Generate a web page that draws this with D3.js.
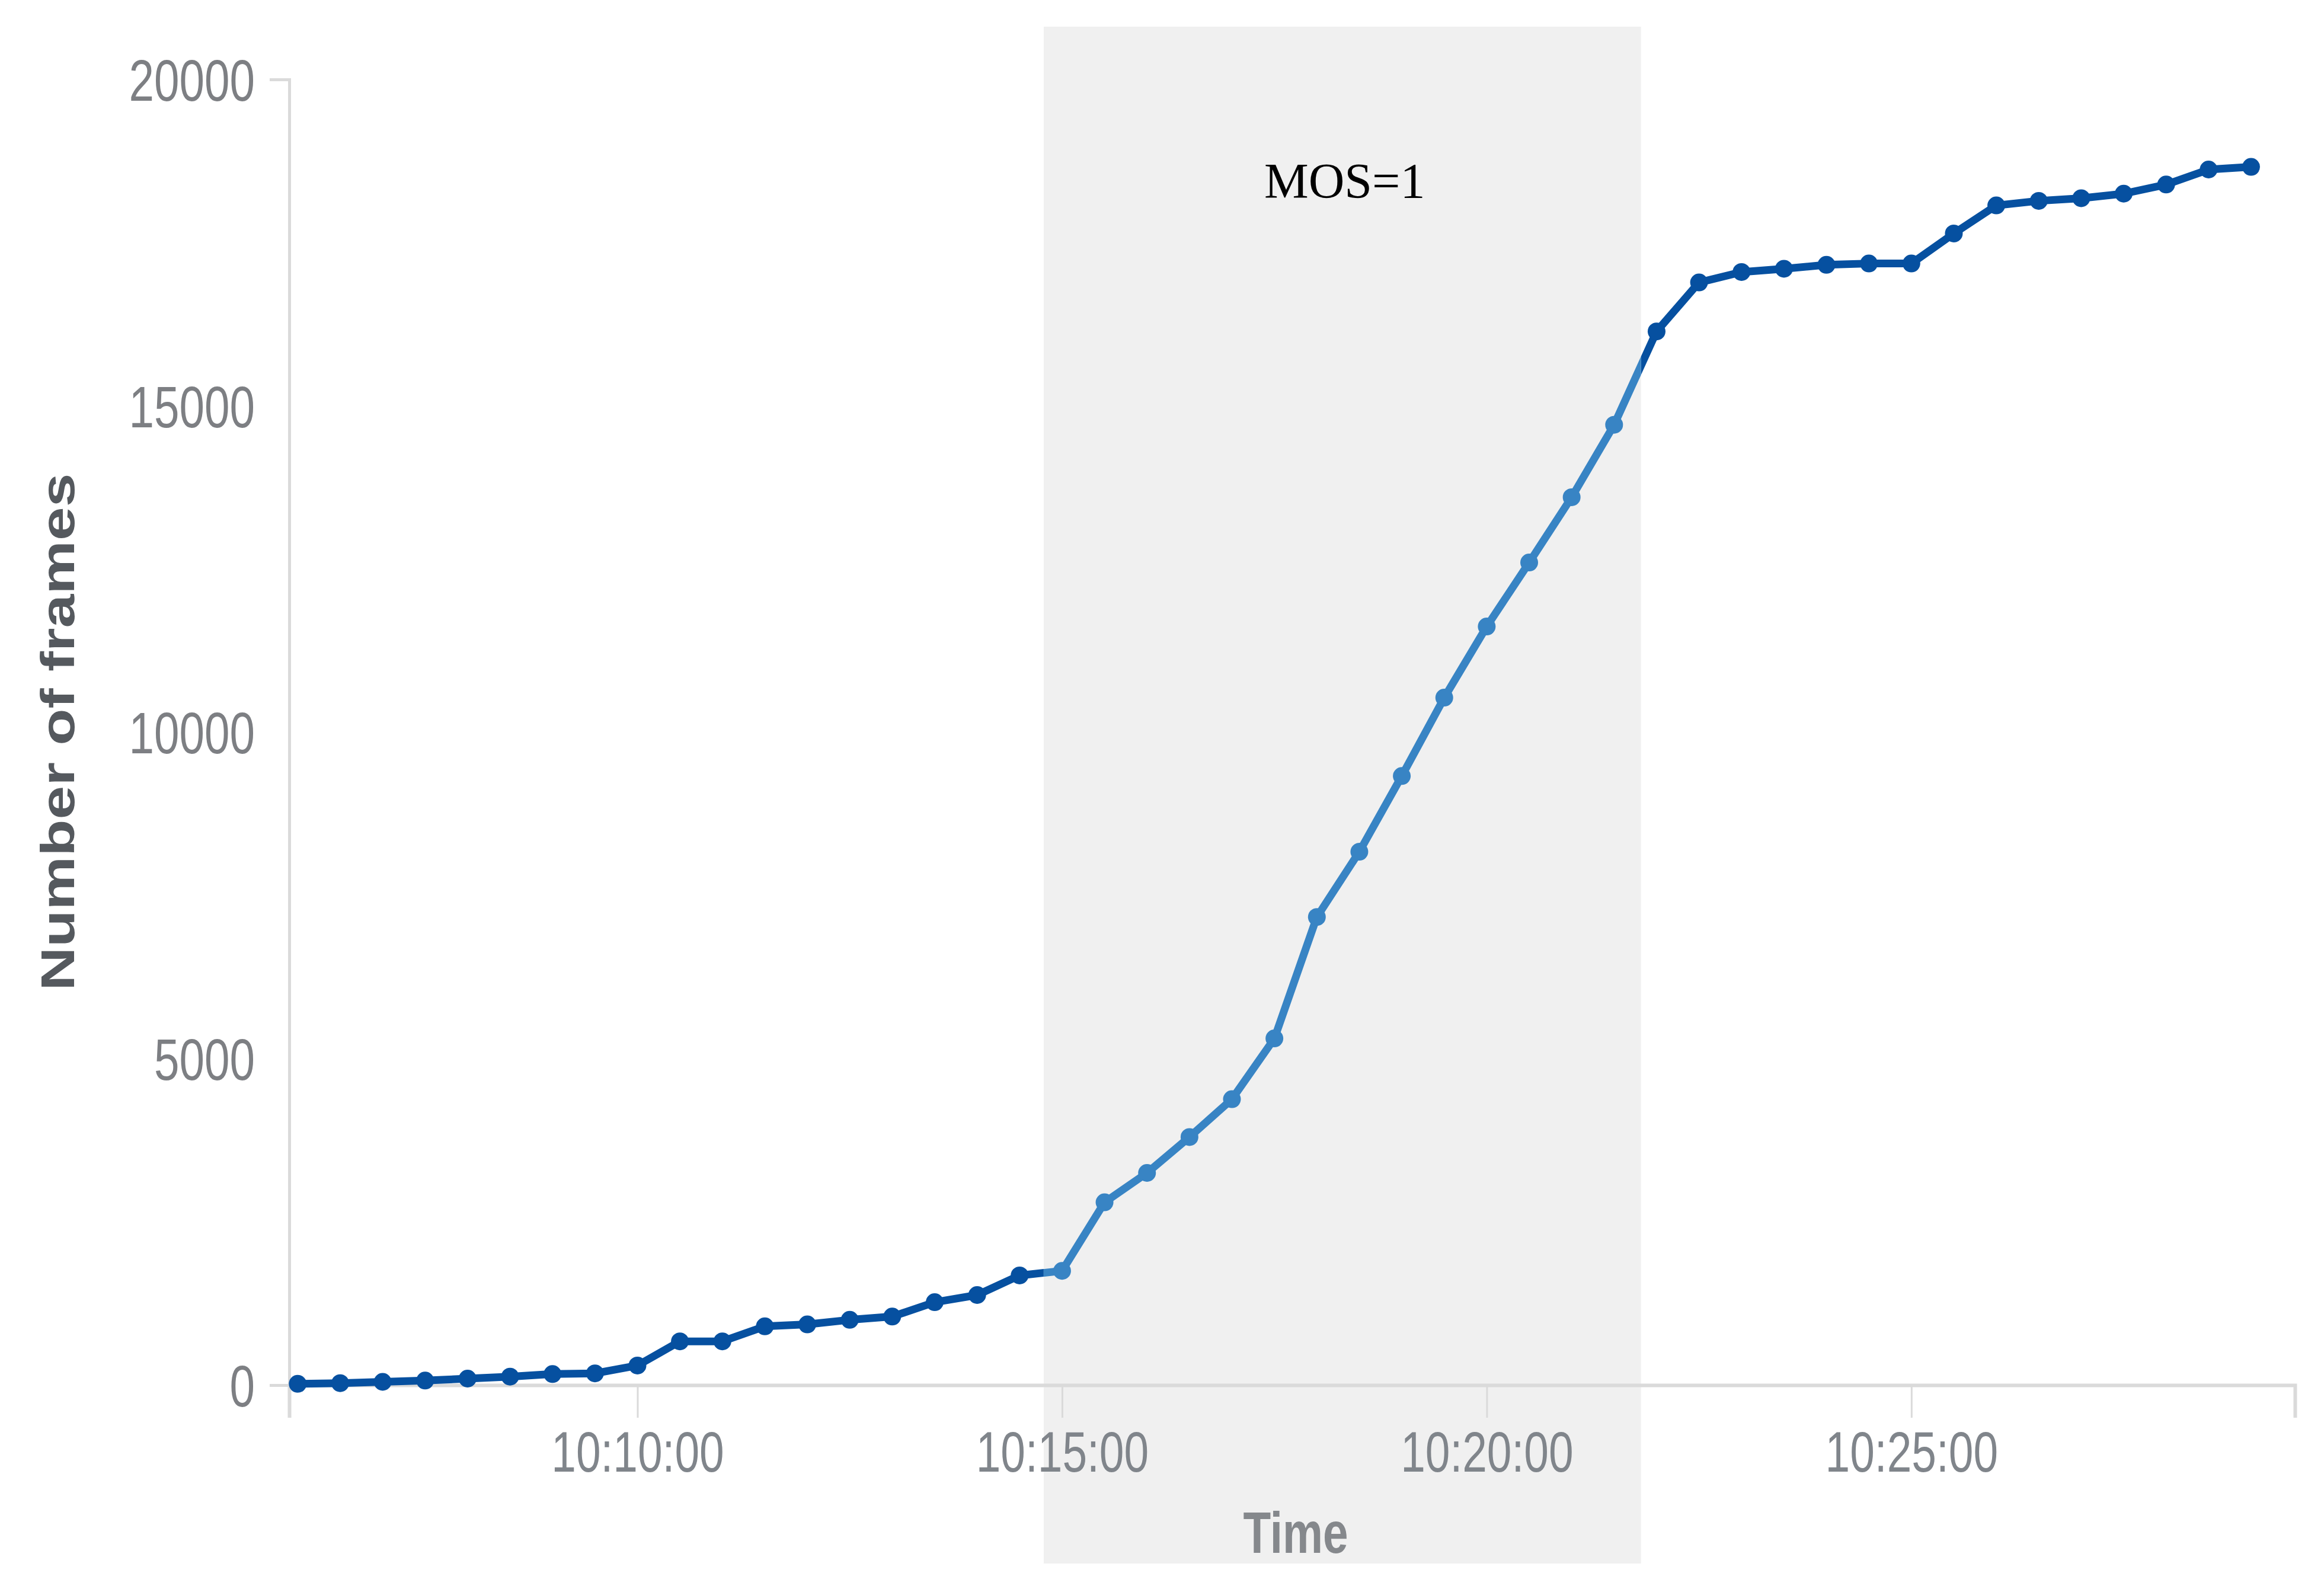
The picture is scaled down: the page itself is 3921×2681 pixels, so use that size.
<!DOCTYPE html>
<html>
<head>
<meta charset="utf-8">
<script src="https://cdn.jsdelivr.net/npm/d3@7"></script>
<style>
  html, body { margin: 0; padding: 0; background: #ffffff; }
  svg { display: block; }
</style>
</head>
<body>
<svg id="chart" width="3921" height="2681"></svg>
<script>
// ---------------- DATA ----------------
const times = [
  "10:06:00","10:06:30","10:07:00","10:07:30","10:08:00","10:08:30","10:09:00","10:09:30",
  "10:10:00","10:10:30","10:11:00","10:11:30","10:12:00","10:12:30","10:13:00","10:13:30",
  "10:14:00","10:14:30","10:15:00","10:15:30","10:16:00","10:16:30","10:17:00","10:17:30",
  "10:18:00","10:18:30","10:19:00","10:19:30","10:20:00","10:20:30","10:21:00","10:21:30",
  "10:22:00","10:22:30","10:23:00","10:23:30","10:24:00","10:24:30","10:25:00","10:25:30",
  "10:26:00","10:26:30","10:27:00","10:27:30","10:28:00","10:28:30","10:29:00"
];
const frames = [
  20, 30, 50, 70, 100, 130, 170, 180,
  300, 670, 670, 900, 930, 1000, 1050, 1270,
  1380, 1680, 1750, 2800, 3250, 3800, 4380, 5310,
  7170, 8170, 9330, 10530, 11620, 12600, 13600, 14710,
  16140, 16890, 17050, 17100, 17160, 17180, 17180, 17640,
  18070, 18140, 18180, 18250, 18390, 18620, 18660
];
const yTicks = [0, 5000, 10000, 15000, 20000];
const xTickLabels = ["10:10:00", "10:15:00", "10:20:00", "10:25:00"];
const xDomain = ["10:05:54", "10:29:31"];
const band = ["10:14:47", "10:21:49"];
const bandLabel = "MOS=1";
const xTitle = "Time";
const yTitle = "Number of frames";

// ---------------- LAYOUT ----------------
const parse = d3.timeParse("%H:%M:%S");
const fmt = d3.timeFormat("%H:%M:%S");
const svg = d3.select("#chart");
const X0 = 488, X1 = 3872, Y0 = 2337, Y1 = 134;
const SQ = 0.78; // horizontal squeeze of chart text

const x = d3.scaleTime().domain(xDomain.map(parse)).range([X0, X1]);
const y = d3.scaleLinear().domain([0, 20000]).range([Y0, Y1]);

const data = times.map((t, i) => ({ t: parse(t), v: frames[i] }));

// shaded band
svg.append("rect")
  .attr("x", x(parse(band[0])))
  .attr("y", 45)
  .attr("width", x(parse(band[1])) - x(parse(band[0])))
  .attr("height", 2638 - 45)
  .attr("fill", "#f0f0f0");

// band label
svg.append("text")
  .attr("x", 2133).attr("y", 334)
  .attr("font-family", "'Liberation Serif', 'DejaVu Serif', serif")
  .attr("font-size", 84)
  .attr("fill", "#000")
  .text(bandLabel);

// x axis
const xAxis = d3.axisBottom(x)
  .tickValues(xTickLabels.map(parse))
  .tickFormat(fmt)
  .tickSize(55)
  .tickSizeOuter(55)
  .tickPadding(0);
const gx = svg.append("g").attr("transform", `translate(0,${Y0})`).call(xAxis);
gx.select(".domain").attr("stroke", "#dadada").attr("stroke-width", 6).attr("fill", "none");
gx.selectAll(".tick line").attr("stroke", "#dadada").attr("stroke-width", 3);
gx.selectAll(".tick text")
  .attr("y", 0).attr("dy", 0)
  .attr("transform", `translate(0,146) scale(${SQ},1)`)
  .attr("font-family", "'Liberation Sans', Arial, sans-serif")
  .attr("font-size", 96)
  .attr("fill", "#80858b");

// y axis
const yAxis = d3.axisLeft(y)
  .tickValues(yTicks)
  .tickFormat(d3.format("d"))
  .tickSize(0)
  .tickSizeOuter(33)
  .tickPadding(0);
const gy = svg.append("g").attr("transform", `translate(${X0},0)`).call(yAxis);
gy.select(".domain").attr("stroke", "#dadada").attr("stroke-width", 5).attr("fill", "none");
gy.selectAll(".tick text")
  .attr("x", 0).attr("dy", "0.36em")
  .attr("transform", `translate(-58,0) scale(${SQ},1)`)
  .attr("font-family", "'Liberation Sans', Arial, sans-serif")
  .attr("font-size", 98)
  .attr("fill", "#7d7f83");

// axis titles
svg.append("text")
  .attr("transform", `translate(2186,2620) scale(${SQ},1)`)
  .attr("text-anchor", "middle")
  .attr("font-family", "'Liberation Sans', Arial, sans-serif")
  .attr("font-weight", "bold")
  .attr("font-size", 98)
  .attr("fill", "#85888c")
  .text(xTitle);

svg.append("text")
  .attr("transform", `translate(125,1235) scale(${SQ},1) rotate(-90)`)
  .attr("text-anchor", "middle")
  .attr("font-family", "'Liberation Sans', Arial, sans-serif")
  .attr("font-weight", "bold")
  .attr("font-size", 102)
  .attr("fill", "#55595e")
  .text(yTitle);

// clip paths: inside / outside band
const defs = svg.append("defs");
const bx0 = x(parse(band[0])), bx1 = x(parse(band[1]));
defs.append("clipPath").attr("id", "inBand")
  .append("rect").attr("x", bx0).attr("y", 0).attr("width", bx1 - bx0).attr("height", 2681);
const outClip = defs.append("clipPath").attr("id", "outBand");
outClip.append("rect").attr("x", 0).attr("y", 0).attr("width", bx0).attr("height", 2681);
outClip.append("rect").attr("x", bx1).attr("y", 0).attr("width", 3921 - bx1).attr("height", 2681);

const line = d3.line().x(d => x(d.t)).y(d => y(d.v));

function drawSeries(color, clipId) {
  const g = svg.append("g").attr("clip-path", `url(#${clipId})`);
  g.append("path").datum(data)
    .attr("d", line)
    .attr("fill", "none")
    .attr("stroke", color)
    .attr("stroke-width", 13)
    .attr("stroke-linejoin", "round")
    .attr("stroke-linecap", "round");
  g.selectAll("circle").data(data).enter().append("circle")
    .attr("cx", d => x(d.t)).attr("cy", d => y(d.v))
    .attr("r", 15)
    .attr("fill", color);
}
drawSeries("#0650a0", "outBand");
drawSeries("#3884c4", "inBand");
</script>
</body>
</html>
